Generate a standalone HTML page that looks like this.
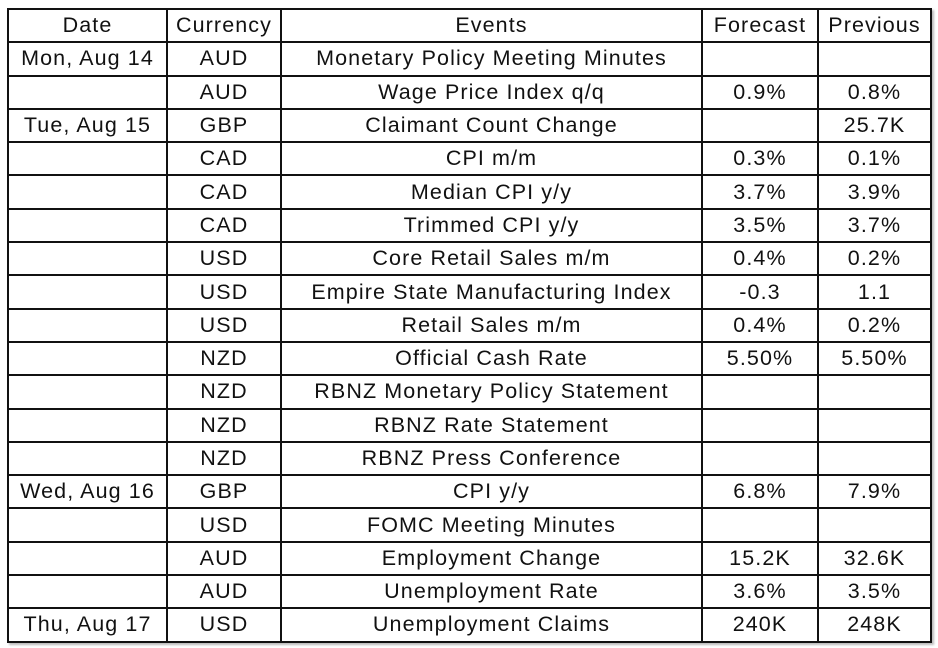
<!DOCTYPE html>
<html><head><meta charset="utf-8"><style>
body{margin:0;background:#fff;width:938px;height:648px;overflow:hidden}
table{position:absolute;left:7px;top:8px;border-collapse:collapse;table-layout:fixed;font-family:"Liberation Sans",sans-serif;font-size:21.5px;letter-spacing:1.1px;color:#111;box-shadow:2px 2px 2px #bbb}
td{border:2px solid #111;height:31.3px;padding:0;text-align:center;white-space:nowrap;overflow:hidden;line-height:31px}
</style></head><body>
<table>
<colgroup><col style="width:159px"><col style="width:114px"><col style="width:421px"><col style="width:116px"><col style="width:113px"></colgroup>
<tr><td>Date</td><td>Currency</td><td>Events</td><td>Forecast</td><td>Previous</td></tr>
<tr><td>Mon, Aug 14</td><td>AUD</td><td>Monetary Policy Meeting Minutes</td><td></td><td></td></tr>
<tr><td></td><td>AUD</td><td>Wage Price Index q/q</td><td>0.9%</td><td>0.8%</td></tr>
<tr><td>Tue, Aug 15</td><td>GBP</td><td>Claimant Count Change</td><td></td><td>25.7K</td></tr>
<tr><td></td><td>CAD</td><td>CPI m/m</td><td>0.3%</td><td>0.1%</td></tr>
<tr><td></td><td>CAD</td><td>Median CPI y/y</td><td>3.7%</td><td>3.9%</td></tr>
<tr><td></td><td>CAD</td><td>Trimmed CPI y/y</td><td>3.5%</td><td>3.7%</td></tr>
<tr><td></td><td>USD</td><td>Core Retail Sales m/m</td><td>0.4%</td><td>0.2%</td></tr>
<tr><td></td><td>USD</td><td>Empire State Manufacturing Index</td><td>-0.3</td><td>1.1</td></tr>
<tr><td></td><td>USD</td><td>Retail Sales m/m</td><td>0.4%</td><td>0.2%</td></tr>
<tr><td></td><td>NZD</td><td>Official Cash Rate</td><td>5.50%</td><td>5.50%</td></tr>
<tr><td></td><td>NZD</td><td>RBNZ Monetary Policy Statement</td><td></td><td></td></tr>
<tr><td></td><td>NZD</td><td>RBNZ Rate Statement</td><td></td><td></td></tr>
<tr><td></td><td>NZD</td><td>RBNZ Press Conference</td><td></td><td></td></tr>
<tr><td>Wed, Aug 16</td><td>GBP</td><td>CPI y/y</td><td>6.8%</td><td>7.9%</td></tr>
<tr><td></td><td>USD</td><td>FOMC Meeting Minutes</td><td></td><td></td></tr>
<tr><td></td><td>AUD</td><td>Employment Change</td><td>15.2K</td><td>32.6K</td></tr>
<tr><td></td><td>AUD</td><td>Unemployment Rate</td><td>3.6%</td><td>3.5%</td></tr>
<tr><td>Thu, Aug 17</td><td>USD</td><td>Unemployment Claims</td><td>240K</td><td>248K</td></tr>
</table>
</body></html>
